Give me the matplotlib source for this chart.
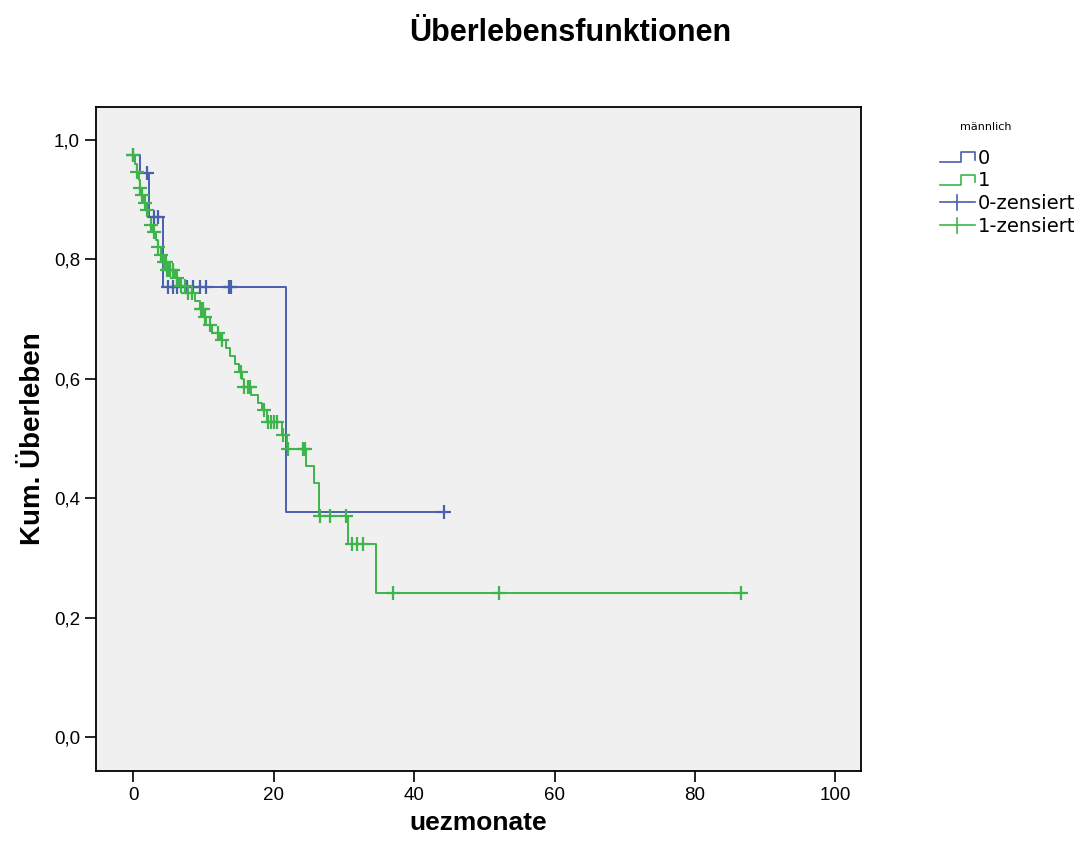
import numpy as np
import matplotlib
matplotlib.use("Agg")
import matplotlib.pyplot as plt
from matplotlib.legend_handler import HandlerBase
from matplotlib.lines import Line2D

plt.rcParams['font.family'] = ['Liberation Sans', 'DejaVu Sans']

# Kaplan-Meier step data (months, cumulative survival)
blue_t = [0.0, 1.0, 2.3, 4.3, 21.8]
blue_s = [0.975, 0.944, 0.870, 0.754, 0.377]
blue_end = 44.3
blue_cens = [0.0, 2.0, 2.9, 3.5, 5.0, 5.6, 6.3, 7.7, 8.5, 9.5, 10.4, 13.6, 13.9, 44.3]

green_t = [0.0, 0.3, 0.5, 0.8, 1.0, 1.2, 1.5, 1.8, 2.1, 2.5, 2.8, 3.2, 3.5,
           3.9, 4.3, 4.7, 6.0, 6.5, 7.5, 8.8, 9.5, 10.2, 10.4, 11.2, 12.3, 13.2,
           13.8, 14.5, 15.0, 15.5, 15.8, 16.8, 17.7, 18.4, 19.0, 21.2, 21.9,
           24.6, 25.7, 26.5, 30.6, 34.6]
green_s = [0.975, 0.960, 0.946, 0.933, 0.920, 0.908, 0.895, 0.882, 0.870,
           0.858, 0.846, 0.833, 0.820, 0.807, 0.795, 0.782, 0.769, 0.756, 0.743,
           0.730, 0.717, 0.703, 0.690, 0.677, 0.664, 0.651, 0.638, 0.625, 0.612,
           0.599, 0.586, 0.573, 0.560, 0.547, 0.528, 0.506, 0.482, 0.454, 0.425,
           0.370, 0.323, 0.241]
green_end = 86.5
green_cens = [0.0, 0.5, 1.0, 1.3, 1.7, 2.0, 2.5, 3.0, 3.5, 4.0, 4.4, 4.6, 4.8, 5.0,
              5.3, 5.6, 6.2, 6.8, 7.3, 7.8, 8.3, 9.6, 9.9, 10.2, 11.0, 12.0, 12.6,
              15.3, 15.8, 16.3, 16.6, 18.6, 19.2, 19.6, 20.1, 20.5, 21.3, 22.1,
              24.2, 24.5, 26.6, 28.0, 30.3, 31.2, 31.9, 32.7, 37.0, 52.1, 86.5]

blue = '#4a5fae'
green = '#3db54a'


def level_at(t, times, surv):
    i = np.searchsorted(times, t, side='right') - 1
    return surv[max(i, 0)]


class StepHandler(HandlerBase):
    def create_artists(self, legend, orig_handle, xdescent, ydescent,
                       width, height, fontsize, trans):
        x0 = -xdescent
        y0 = -ydescent
        xs = [x0, x0 + width * 0.6, x0 + width * 0.6, x0 + width, x0 + width]
        ys = [y0 + height * 0.1, y0 + height * 0.1, y0 + height * 0.85,
              y0 + height * 0.85, y0 + height * 0.3]
        ln = Line2D(xs, ys, color=orig_handle.get_color(), lw=1.2)
        ln.set_transform(trans)
        return [ln]


class CensorHandler(HandlerBase):
    def create_artists(self, legend, orig_handle, xdescent, ydescent,
                       width, height, fontsize, trans):
        x0 = -xdescent
        y0 = -ydescent
        ym = y0 + height * 0.5
        xm = x0 + width * 0.5
        h = Line2D([x0, x0 + width], [ym, ym], color=orig_handle.get_color(), lw=1.2)
        v = Line2D([xm, xm], [ym - height * 0.55, ym + height * 0.55],
                   color=orig_handle.get_color(), lw=1.2)
        h.set_transform(trans)
        v.set_transform(trans)
        return [h, v]


fig = plt.figure(figsize=(10.84, 8.55), dpi=100)
ax = fig.add_axes([0.0886, 0.0982, 0.7054, 0.7767])
ax.set_facecolor('#f0f0f0')

bt = blue_t + [blue_end]
bs = blue_s + [blue_s[-1]]
gt = green_t + [green_end]
gs = green_s + [green_s[-1]]
l0, = ax.step(bt, bs, where='post', color=blue, lw=1.4)
l1, = ax.step(gt, gs, where='post', color=green, lw=1.4)

by = [level_at(t, blue_t, blue_s) for t in blue_cens]
gy = [level_at(t, green_t, green_s) for t in green_cens]
c0, = ax.plot(blue_cens, by, ls='none', marker='+', ms=10, mew=1.6, color=blue)
c1, = ax.plot(green_cens, gy, ls='none', marker='+', ms=10, mew=1.6, color=green)

ax.set_xlim(-5.3, 103.6)
ax.set_ylim(-0.057, 1.055)
ax.set_xticks([0, 20, 40, 60, 80, 100])
ax.set_yticks([0.0, 0.2, 0.4, 0.6, 0.8, 1.0])
ax.set_yticklabels(['0,0', '0,2', '0,4', '0,6', '0,8', '1,0'])
ax.tick_params(length=8, width=1.2, labelsize=13.5, colors='black')
for sp in ax.spines.values():
    sp.set_linewidth(1.3)

ax.set_xlabel('uezmonate', fontsize=19, fontweight='bold', labelpad=5)
ax.set_ylabel('Kum. Überleben', fontsize=20, fontweight='bold', labelpad=6)
fig.text(0.526, 0.961, 'Überlebensfunktionen', fontsize=22, fontweight='bold',
         ha='center', va='center')

fig.text(0.909, 0.851, 'männlich', fontsize=8, family='DejaVu Sans',
         ha='center', va='center')
leg = fig.legend([l0, l1, c0, c1], ['0', '1', '0-zensiert', '1-zensiert'],
                 handler_map={l0: StepHandler(), l1: StepHandler(),
                              c0: CensorHandler(), c1: CensorHandler()},
                 loc='upper left', bbox_to_anchor=(0.867, 0.826),
                 frameon=False, prop={'family': 'DejaVu Sans', 'size': 14},
                 handlelength=1.8, handletextpad=0.15, labelspacing=0.19,
                 borderaxespad=0, borderpad=0)

fig.savefig('out.png', dpi=100)
